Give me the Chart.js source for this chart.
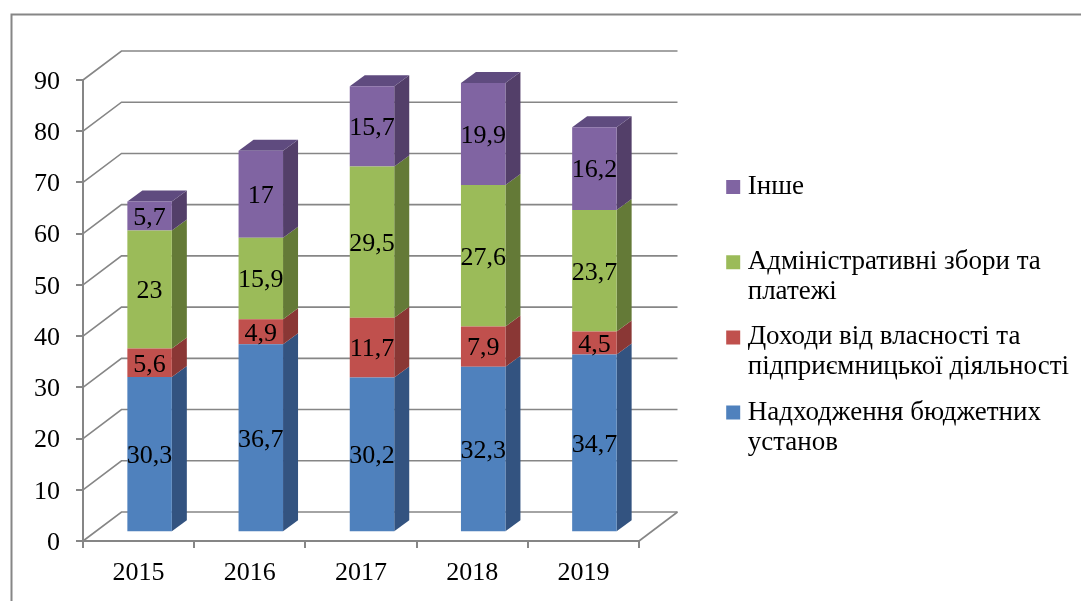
<!DOCTYPE html>
<html><head><meta charset="utf-8">
<style>html,body{margin:0;padding:0;background:#fff}canvas{display:block}</style>
<script src="https://cdn.jsdelivr.net/npm/chart.js@4/dist/chart.umd.min.js"></script>
</head><body><canvas id="c" width="1081" height="601"></canvas>
<script>
const categories = ['2015','2016','2017','2018','2019'];
const budgetInst = [30.3,36.7,30.2,32.3,34.7];
const propertyIncome = [5.6,4.9,11.7,7.9,4.5];
const adminFees = [23,15.9,29.5,27.6,23.7];
const other = [5.7,17,15.7,19.9,16.2];
const labelBudget = ['Надходження бюджетних','установ'];
const labelProperty = ['Доходи від власності та','підприємницької діяльності'];
const labelAdmin = ['Адміністративні збори та','платежі'];
const labelOther = ['Інше',''];
const yTicksMax = 90, yTickStep = 10;

const FONT = '"Liberation Serif"';
const GRID = '#868686';
const WALL = {dx:38.5, dy:-29};
const PLANE = {dx:11, dy:-8.7};
const BAR = {dx:15, dy:-11};
const COLORS = {
  blue:{front:'#4f81bd',side:'#335380'},
  red:{front:'#c0504d',side:'#8a3735'},
  green:{front:'#9bbb59',side:'#647a37'},
  purple:{front:'#8064a2',side:'#533f69',top:'#5f4b7f'}
};
const fmt = v => String(v).replace('.',',');

function poly(ctx, pts, fill){
  ctx.fillStyle = fill; ctx.beginPath();
  pts.forEach((p,i)=> i?ctx.lineTo(p[0],p[1]):ctx.moveTo(p[0],p[1]));
  ctx.closePath(); ctx.fill();
}
const scene = {
  id:'scene',
  afterLayout(chart){
    const l = chart.legend;
    l.left = 717; l.right = 1081; l.top = 158.3; l.bottom = 560; l.width = l.right-l.left; l.height = l.bottom-l.top;
    const y = chart.scales.y;
    y.getLabelItems(chart.chartArea).forEach(it=>{ it.options.translation[1] += 2; });
  },
  beforeDraw(chart){
    const c = chart.ctx; c.save();
    c.strokeStyle = GRID; c.lineWidth = 2;
    c.beginPath(); c.moveTo(11.5,601); c.lineTo(11.5,14.5); c.lineTo(1081,14.5); c.stroke();
    c.restore();
  },
  beforeDatasetsDraw(chart){
    const c = chart.ctx, y = chart.scales.y, a = chart.chartArea;
    c.save();
    c.strokeStyle = GRID; c.lineWidth = 1.6;
    y.ticks.forEach(t=>{
      const py = y.getPixelForValue(t.value);
      c.beginPath();
      c.moveTo(a.left,py);
      c.lineTo(a.left+WALL.dx,py+WALL.dy);
      c.lineTo(a.right+WALL.dx,py+WALL.dy);
      c.stroke();
    });
    const y0 = y.getPixelForValue(0);
    c.beginPath(); c.moveTo(a.right,y0); c.lineTo(a.right+WALL.dx,y0+WALL.dy); c.stroke();
    c.restore();

    c.save();
    c.translate(PLANE.dx,PLANE.dy);
    chart.data.datasets.forEach((ds,i)=>{
      const meta = chart.getDatasetMeta(i);
      meta.data.forEach(el=>{
        const p = el.getProps(['x','y','base','width'],true);
        const l = p.x-p.width/2, r = p.x+p.width/2;
        poly(c,[[r,p.y],[r+BAR.dx,p.y+BAR.dy],[r+BAR.dx,p.base+BAR.dy],[r,p.base]],ds.sideColor);
        if(ds.topColor) poly(c,[[l,p.y],[l+BAR.dx,p.y+BAR.dy],[r+BAR.dx,p.y+BAR.dy],[r,p.y]],ds.topColor);
      });
    });
  },
  afterDatasetsDraw(chart){
    const c = chart.ctx;
    c.font = '26px '+FONT; c.fillStyle = '#000'; c.textAlign='center'; c.textBaseline='middle';
    chart.data.datasets.forEach((ds,i)=>{
      chart.getDatasetMeta(i).data.forEach((el,j)=>{
        const p = el.getProps(['x','y','base'],true);
        c.fillText(fmt(ds.data[j]),p.x,(p.y+p.base)/2+2);
      });
    });
    c.restore();
  }
};
const mk = (label,data,col)=>({label,data,backgroundColor:col.front,sideColor:col.side,topColor:col.top,
  borderWidth:0,categoryPercentage:1,barPercentage:0.4,clip:false,stack:'s'});

new Chart(document.getElementById('c'),{
  type:'bar',
  data:{labels:categories,datasets:[
    mk(labelBudget,budgetInst,COLORS.blue),
    mk(labelProperty,propertyIncome,COLORS.red),
    mk(labelAdmin,adminFees,COLORS.green),
    mk(labelOther,other,COLORS.purple)
  ]},
  plugins:[scene],
  options:{
    responsive:false,animation:false,
    layout:{padding:{left:0,top:80,right:442,bottom:0}},
    scales:{
      x:{stacked:true,
        afterFit(s){s.height=60;},
        border:{display:true,color:GRID,width:2},
        grid:{display:true,drawOnChartArea:false,drawTicks:true,tickLength:7,color:GRID,lineWidth:2,offset:true},
        ticks:{color:'#000',padding:10,maxRotation:0,font:{family:FONT,size:26}}},
      y:{stacked:true,min:0,max:yTicksMax,
        afterFit(s){s.width=83;},
        border:{display:true,color:GRID,width:2},
        grid:{display:true,drawOnChartArea:false,drawTicks:true,tickLength:7,color:GRID,lineWidth:2},
        ticks:{color:'#000',stepSize:yTickStep,padding:16,font:{family:FONT,size:26}}}
    },
    plugins:{
      tooltip:{enabled:false},title:{display:false},
      legend:{position:'chartArea',align:'start',reverse:true,
        labels:{color:'#000',boxWidth:2,boxHeight:2,padding:15.2,
          font:{family:FONT,size:27,lineHeight:30/27},
          generateLabels(chart){
            const items = Chart.defaults.plugins.legend.labels.generateLabels(chart);
            items.forEach(it=>{it.lineWidth=12;it.strokeStyle=it.fillStyle;});
            return items;
          }}}
    }
  }
});
</script></body></html>
